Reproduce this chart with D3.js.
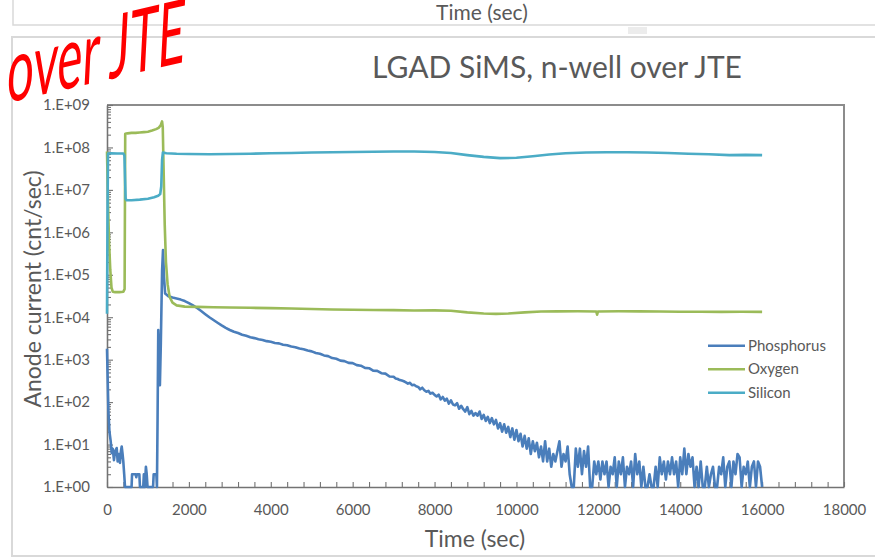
<!DOCTYPE html>
<html lang="en">
<head>
<meta charset="UTF-8">
<title>LGAD SiMS, n-well over JTE</title>
<script src="https://cdn.jsdelivr.net/npm/d3@7"></script>
<style>
  body { margin: 0; background: #fff; }
  svg text { font-family: Lato, "Open Sans", sans-serif; fill: #595959; }
</style>
</head>
<body>
<script>
// ---- data (time in sec, counts in cnt/sec) ----
var xTicks = [0, 2000, 4000, 6000, 8000, 10000, 12000, 14000, 16000, 18000];
var yTicks = [1e0, 1e1, 1e2, 1e3, 1e4, 1e5, 1e6, 1e7, 1e8, 1e9];
var seriesNames = ['Phosphorus', 'Oxygen', 'Silicon'];

var phosphorus = [
  [0,1800],[15,400],[35,60],[60,20],[90,12],[115,6.3],[140,8],[170,4.3],[200,7],[237,8.3],[260,4],[290,6],
  [317,3.7],[340,7],[359,9],[380,6],[398,4],[420,2],[440,1],[600,1],[612,2],[700,2],[715,1.7],[730,2],[790,2],
  [805,1],[885,1],[900,2],[925,1],[950,3],[970,2],[990,1],[1125,1],[1140,2],[1205,2],[1220,1],[1235,40],
  [1252,5000],[1272,900],[1292,250],[1315,2500],[1345,1.2e5],[1368,3.8e5],[1392,9e4],[1420,3.6e4],
  [1500,31000],[1600,29000],[1700,27500],[1800,26000],[1900,24000],[2000,21500],[2100,19000],[2200,16500],
  [2300,14000],[2400,11800],[2500,10000],[2600,8600],[2700,7400],[2800,6400],[2900,5600],[3000,5000],
  [3100,4550],[3200,4250],[3300,3880],[3400,3650],[3500,3380],[3600,3220],[3700,3030],[3800,2920],
  [3900,2730],[4000,2630],[4100,2480],[4200,2420],[4300,2250],[4400,2180],[4500,2040],[4600,1970],
  [4700,1830],[4800,1760],[4900,1640],[5000,1570],[5100,1440],[5200,1380],[5300,1260],[5400,1210],
  [5500,1090],[5600,1050],[5700,950],[5800,925],[5900,840],[6000,830],
  [6100,745],[6200,720],[6300,640],[6400,630],[6500,550],[6600,545],[6700,480],[6800,470],[6900,400],[7000,395],
  [7050,360],[7100,350],[7150,330],[7200,322],[7250,310],[7300,292],[7350,272],[7400,285],[7450,250],
  [7500,256],[7550,236],[7600,228],[7650,200],[7700,218],[7750,190],[7800,176],[7850,184],[7900,158],
  [7950,166],[8000,148],[8050,136],[8100,150],[8150,116],[8200,132],[8250,108],[8300,120],[8350,92],
  [8400,110],[8450,88],[8500,84],[8550,94],[8600,70],[8650,82],[8700,68],[8750,60],[8800,76],[8850,52],
  [8900,62],[8950,48],
  [9000,55],[9050,48],[9100,60],[9150,40],[9200,50],[9250,36],[9300,45],[9350,32],[9400,42],[9450,30],
  [9500,38],[9550,24],[9600,32],[9650,20],[9700,30],[9750,19],[9800,26],[9850,15],[9900,24],[9950,13],
  [10000,22],[10050,12],[10100,18],[10150,9],[10200,16],[10250,8],[10300,14],[10350,6],[10400,12],[10450,7],
  [10500,11],[10550,5],[10600,9],[10650,4],[10700,12],[10750,4],[10800,8],[10850,3],[10900,6],[10950,4],
  [11000,7],[11050,12],[11100,3],[11150,6],[11200,4],[11250,9],[11300,2],[11350,1],[11400,1],[11450,8],
  [11500,3],[11550,8],[11600,2],[11650,7],[11700,3],[11750,9],[11800,1],[11850,1],[11900,4],[11950,2],
  [12000,4],[12050,1.5],[12100,4],[12150,2],[12200,4],[12250,1],[12300,3],[12350,2],[12400,5],[12450,1],
  [12500,4],[12550,2],[12600,5],[12650,1],[12700,3],[12750,2],[12800,4],[12850,1],[12900,6],[12950,2],
  [13000,4],[13050,1],[13100,3],[13150,1],[13200,1],[13250,2],[13300,1],[13350,1],[13400,3],[13450,1],
  [13500,5],[13550,2],[13600,4],[13650,1.5],[13700,4],[13750,2],[13800,5],[13850,2],[13900,4],[13950,1],
  [14000,5],[14050,2],[14100,8],[14150,2],[14200,6],[14250,3],[14300,5],[14350,1],[14400,3],[14450,1],
  [14500,4],[14550,1],[14600,1],[14650,3],[14700,1],[14750,2],[14800,3],[14850,1],[14900,1],[14950,3],
  [15000,2],[15050,5],[15100,1],[15150,3],[15200,4],[15250,1],[15300,4],[15350,2],[15400,6],[15450,5],
  [15500,1],[15550,3],[15600,2],[15650,4],[15700,1],[15750,3],[15800,4],[15850,1],[15900,4],[15950,3],
  [16000,1]
];

var oxygen = [
  [0,8e7],[25,5e6],[50,6e5],[80,1.3e5],[110,5e4],[140,4e4],[200,3.9e4],[300,3.9e4],[400,4e4],[430,4.6e4],
  [445,2.1e8],[500,2.15e8],[600,2.2e8],[700,2.2e8],[800,2.25e8],[900,2.3e8],[1000,2.35e8],[1100,2.5e8],
  [1200,2.7e8],[1260,2.9e8],[1310,3.3e8],[1345,4.1e8],[1362,3e8],[1380,4e7],[1410,1.5e6],[1440,2e5],
  [1480,6e4],[1530,3e4],[1600,2.2e4],[1700,1.9e4],[1900,1.78e4],[2200,1.75e4],[2600,1.72e4],[3000,1.7e4],
  [3500,1.67e4],[4000,1.64e4],[4500,1.6e4],[5000,1.56e4],[5500,1.52e4],[6000,1.5e4],[6500,1.48e4],
  [7000,1.47e4],[7500,1.44e4],[8000,1.45e4],[8400,1.42e4],[8800,1.3e4],[9200,1.22e4],[9500,1.2e4],
  [9800,1.22e4],[10200,1.3e4],[10600,1.36e4],[11000,1.37e4],[11500,1.38e4],[11950,1.36e4],[11970,1.15e4],
  [11990,1.36e4],[12500,1.38e4],[13000,1.37e4],[13500,1.36e4],[14000,1.35e4],[14500,1.35e4],
  [15000,1.34e4],[15500,1.35e4],[16000,1.34e4]
];

var silicon = [
  [0,1.2e4],[12,2e6],[25,7.2e7],[100,7.3e7],[250,7.2e7],[400,7.2e7],[425,6.5e7],[440,2e7],[455,6.2e6],
  [480,5.7e6],[600,5.7e6],[800,5.9e6],[1000,6.2e6],[1150,6.7e6],[1250,7.3e6],[1300,8e6],[1325,1.2e7],
  [1345,5e7],[1365,7.6e7],[1450,7.3e7],[1700,7.1e7],[2000,7e7],[2500,6.9e7],[3000,7e7],[3500,7.1e7],
  [4000,7.3e7],[4500,7.4e7],[5000,7.6e7],[5500,7.7e7],[6000,7.8e7],[6500,7.9e7],[7000,8e7],[7500,8e7],
  [8000,7.8e7],[8400,7.4e7],[8800,6.6e7],[9200,6e7],[9600,5.6e7],[10000,5.7e7],[10400,6.2e7],
  [10800,6.8e7],[11200,7.3e7],[11700,7.6e7],[12200,7.7e7],[12700,7.7e7],[13200,7.6e7],[13700,7.4e7],
  [14200,7.1e7],[14700,6.9e7],[15200,6.6e7],[15600,6.7e7],[16000,6.6e7]
];

var colors = ['#4a7ebb', '#9bbb59', '#4bacc6'];

// ---- canvas ----
var width = 875, height = 559;
var svg = d3.select('body').append('svg')
  .attr('width', width)
  .attr('height', height);

// leftover of the chart above + frame of this chart
svg.append('path')
  .attr('d', 'M13,0V25H875')
  .attr('fill', 'none').attr('stroke', '#d9d9d9').attr('stroke-width', 1.5);
svg.append('rect')
  .attr('x', 628).attr('y', 27).attr('width', 19).attr('height', 7)
  .attr('fill', '#ececec');
svg.append('text')
  .attr('x', 482).attr('y', 20)
  .attr('text-anchor', 'middle')
  .style('font-size', '21px')
  .text('Time (sec)');
svg.append('path')
  .attr('d', 'M875,37H12V556H875')
  .attr('fill', 'none').attr('stroke', '#d9d9d9').attr('stroke-width', 2);

// scales
var x = d3.scaleLinear().domain([0, 18000]).range([107, 844]);
var y = d3.scaleLog().domain([1, 1e9]).range([487, 105]);

// plot frame (top and right)
svg.append('path')
  .attr('d', 'M' + x(0) + ',' + y(1e9) + 'H' + x(18000) + 'V' + y(1))
  .attr('fill', 'none').attr('stroke', '#8c8c8c').attr('stroke-width', 2);

// x axis: minor ticks every 400 s, pointing inward
svg.append('g')
  .attr('transform', 'translate(0,' + y(1) + ')')
  .call(d3.axisBottom(x).tickValues(d3.range(0, 18001, 400))
    .tickSizeInner(-5).tickSizeOuter(0).tickFormat(''));
var xLab = svg.append('g')
  .attr('transform', 'translate(0,' + y(1) + ')')
  .call(d3.axisBottom(x).tickValues(xTicks).tickSize(0).tickPadding(17).tickFormat(d3.format('d')));
xLab.select('.domain').remove();

// y axis: minor log ticks + decade ticks
var yMinorVals = [];
yTicks.slice(0, -1).forEach(function (d) {
  for (var m = 2; m <= 9; m++) yMinorVals.push(d * m);
});
svg.append('g')
  .attr('transform', 'translate(' + x(0) + ',0)')
  .call(d3.axisLeft(y).tickValues(yMinorVals).tickSizeInner(-4).tickSizeOuter(0).tickFormat(''));
svg.append('g')
  .attr('transform', 'translate(' + x(0) + ',0)')
  .call(d3.axisLeft(y).tickValues(yTicks).tickSizeInner(-6).tickSizeOuter(0).tickPadding(17)
    .tickFormat(function (d) {
      var e = Math.round(Math.log10(d));
      return '1.E+' + (e < 10 ? '0' : '') + e;
    }));

svg.selectAll('.domain').attr('stroke', '#737373').attr('stroke-width', 1.3);
svg.selectAll('.tick line').attr('stroke', '#737373').attr('stroke-width', 1.1);
svg.selectAll('.tick text').style('font-size', '15px').attr('fill', '#595959')
  .style('font-family', 'Lato, sans-serif');

// axis titles + chart title
svg.append('text')
  .attr('x', 475).attr('y', 547)
  .attr('text-anchor', 'middle')
  .style('font-size', '23px')
  .text('Time (sec)');
svg.append('text')
  .attr('transform', 'translate(41,289) rotate(-90)')
  .attr('text-anchor', 'middle')
  .style('font-size', '23px')
  .text('Anode current (cnt/sec)');
svg.append('text')
  .attr('x', 557).attr('y', 78)
  .attr('text-anchor', 'middle')
  .style('font-size', '30px')
  .text('LGAD SiMS, n-well over JTE');

// the red scribble note in the corner
svg.append('text')
  .attr('transform', 'translate(184,62) rotate(-13) skewX(-16) scale(0.74,1.3)')
  .attr('text-anchor', 'end')
  .style('font-size', '66px')
  .style('fill', '#ff0000')
  .text('over JTE');

// lines
svg.append('clipPath').attr('id', 'plotClip')
  .append('rect').attr('x', x(0) - 2).attr('y', y(1e9)).attr('width', x(18000) - x(0) + 2).attr('height', y(1) - y(1e9) + 2);

var line = d3.line()
  .x(function (d) { return x(d[0]); })
  .y(function (d) { return y(Math.max(1, d[1])); });

var allSeries = [phosphorus, oxygen, silicon];
svg.append('g').attr('clip-path', 'url(#plotClip)')
  .selectAll('path')
  .data(allSeries)
  .enter()
  .append('path')
  .attr('d', line)
  .attr('fill', 'none')
  .attr('stroke', function (d, i) { return colors[i]; })
  .attr('stroke-width', 2.6)
  .attr('stroke-linejoin', 'round');

// legend
var legend = svg.append('g').selectAll('g')
  .data(seriesNames)
  .enter()
  .append('g')
  .attr('transform', function (d, i) { return 'translate(708,' + (345.7 + i * 23.5) + ')'; });
legend.append('line')
  .attr('x1', 0).attr('x2', 37)
  .attr('stroke', function (d, i) { return colors[i]; })
  .attr('stroke-width', 2.6);
legend.append('text')
  .attr('x', 40).attr('dy', '0.35em')
  .style('font-size', '15px')
  .text(function (d) { return d; });
</script>
</body>
</html>
